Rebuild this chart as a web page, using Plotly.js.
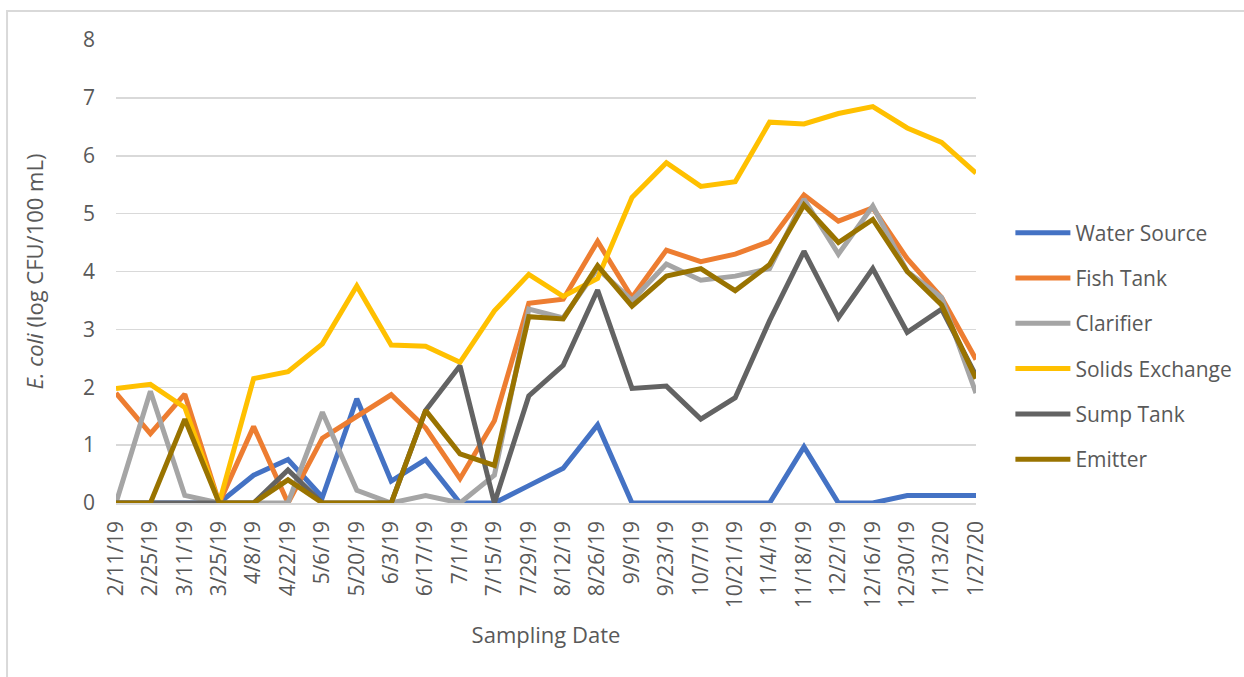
<!DOCTYPE html>
<html>
<head>
<meta charset="utf-8">
<script src="https://cdn.plot.ly/plotly-3.0.1.min.js"></script>
<style>
  html, body { margin: 0; padding: 0; background: #ffffff; }
  #chart { width: 1244px; height: 677px; }
</style>
</head>
<body>
<div id="chart"></div>
<script>
const dates = ["2/11/19","2/25/19","3/11/19","3/25/19","4/8/19","4/22/19","5/6/19","5/20/19","6/3/19","6/17/19","7/1/19","7/15/19","7/29/19","8/12/19","8/26/19","9/9/19","9/23/19","10/7/19","10/21/19","11/4/19","11/18/19","12/2/19","12/16/19","12/30/19","1/13/20","1/27/20"];

const waterSource = [0,0,0,0,0.48,0.75,0.1,1.8,0.38,0.75,0,0,0.3,0.6,1.35,0,0,0,0,0,0.97,0,0,0.13,0.13,0.13];
const fishTank = [1.9,1.2,1.88,0,1.32,0,1.12,1.5,1.87,1.3,0.42,1.42,3.45,3.52,4.52,3.55,4.37,4.17,4.3,4.52,5.32,4.87,5.1,4.22,3.55,2.48];
const clarifier = [0,1.93,0.13,0,0,0,1.57,0.22,0,0.13,0,0.48,3.35,3.2,4.05,3.5,4.13,3.85,3.92,4.05,5.25,4.3,5.13,4.0,3.55,1.9];
const solidsExchange = [1.98,2.05,1.65,0,2.15,2.27,2.75,3.75,2.73,2.71,2.43,3.32,3.95,3.57,3.88,5.28,5.88,5.47,5.55,6.58,6.55,6.73,6.85,6.48,6.23,5.7];
const sumpTank = [0,0,0,0,0,0.57,0,0,0,1.6,2.37,0,1.85,2.38,3.68,1.98,2.02,1.45,1.82,3.15,4.35,3.2,4.05,2.95,3.35,2.2];
const emitter = [0,0,1.45,0,0,0.4,0,0,0,1.6,0.85,0.65,3.22,3.18,4.1,3.4,3.92,4.05,3.67,4.12,5.15,4.5,4.9,4.0,3.42,2.15];

const seriesNames = ["Water Source","Fish Tank","Clarifier","Solids Exchange","Sump Tank","Emitter"];
const seriesValues = [waterSource, fishTank, clarifier, solidsExchange, sumpTank, emitter];
const seriesColors = ["#4472C4","#ED7D31","#A5A5A5","#FFC000","#636363","#997300"];

const yTicks = [0,1,2,3,4,5,6,7,8];

const FONT = "Open Sans, Noto Sans, sans-serif";
const TXT = "#595959";

const traces = seriesNames.map((name, i) => ({
  type: "scatter",
  mode: "lines",
  name: name,
  x: dates,
  y: seriesValues[i],
  legendgroup: "g" + i,
  line: { color: seriesColors[i], width: 5, shape: "linear" },
  hoverinfo: "x+y+name"
}));

const layout = {
  width: 1244,
  height: 677,
  paper_bgcolor: "#ffffff",
  plot_bgcolor: "#ffffff",
  margin: { l: 116, r: 268, t: 40, b: 174, pad: 0, autoexpand: false },
  font: { family: FONT, color: TXT, size: 21 },
  showlegend: true,
  legend: {
    x: 1.04, xanchor: "left",
    y: 0.339, yanchor: "middle",
    font: { family: FONT, color: TXT, size: 21 },
    tracegroupgap: 15,
    itemwidth: 55,
    bgcolor: "rgba(0,0,0,0)"
  },
  xaxis: {
    type: "category",
    range: [0, dates.length - 1],
    tickangle: -90,
    showgrid: false,
    showline: true,
    linecolor: "#d9d9d9",
    linewidth: 1.5,
    ticks: "",
    ticklabelstandoff: 8,
    tickfont: { family: FONT, color: TXT, size: 21 },
    zeroline: false,
    automargin: false,
    title: { text: "Sampling Date", font: { family: FONT, color: TXT, size: 22 }, standoff: 20 }
  },
  yaxis: {
    range: [0, 8],
    tickvals: yTicks,
    ticktext: yTicks.map(String),
    showgrid: true,
    gridcolor: "#d9d9d9",
    gridwidth: 1.5,
    zeroline: false,
    showline: false,
    ticks: "",
    ticklabelstandoff: 20,
    tickfont: { family: FONT, color: TXT, size: 21 },
    automargin: false,
    title: { text: "<i>E. coli</i> (log CFU/100 mL)", font: { family: FONT, color: TXT, size: 22 }, standoff: 33 }
  },
  shapes: [{
    type: "rect",
    xref: "paper", yref: "paper",
    x0: -0.1267, x1: 1.5, y0: -1, y1: 1.0626,
    line: { color: "#d9d9d9", width: 2 },
    fillcolor: "rgba(0,0,0,0)",
    layer: "below"
  }]
};

Plotly.newPlot("chart", traces, layout, { displayModeBar: false, staticPlot: true });
</script>
</body>
</html>
